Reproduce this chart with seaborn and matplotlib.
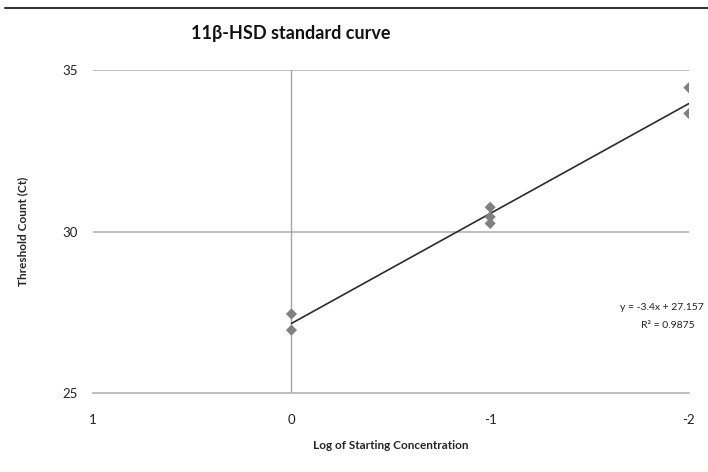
import matplotlib
matplotlib.use("Agg")
import matplotlib.pyplot as plt
import numpy as np
import pandas as pd
import seaborn as sns
from matplotlib.lines import Line2D

# replicate Ct readings per dilution
log_conc = [0, 0, -1, -1, -1, -2, -2]
ct_values = [27.45, 26.95, 30.75, 30.45, 30.25, 34.45, 33.65]

# linear trendline as reported on the chart
slope = -3.4
intercept = 27.157
r_squared = 0.9875

x_ticks = [1, 0, -1, -2]
y_ticks = [25, 30, 35]

sns.set_style("white")
plt.rcParams["font.family"] = ["Lato", "DejaVu Sans"]

points = pd.DataFrame({"log_conc": log_conc, "ct": ct_values})
fit_x = np.array([max(log_conc), min(log_conc)])
trend = pd.DataFrame({"log_conc": fit_x, "ct": slope * fit_x + intercept})

fig = plt.figure(figsize=(7.08, 4.72), dpi=100)
ax = fig.add_axes([0.131, 0.167, 0.842, 0.685])

grid_color = "#b3b3b3"
for yv in y_ticks[1:]:
    ax.axhline(yv, color=grid_color, lw=1.2, zorder=0)
ax.axvline(0, color="#a6a6a6", lw=1.0, zorder=0)

sns.lineplot(data=trend, x="log_conc", y="ct", color="#2b2b2b", lw=1.2, ax=ax, zorder=2)
sns.scatterplot(data=points, x="log_conc", y="ct", marker="D", s=32, color="#808080",
                edgecolor="none", ax=ax, zorder=3)

ax.set_xlim(1, -2)
ax.set_ylim(25, 35)
ax.set_xticks(x_ticks)
ax.set_xticklabels([str(v) for v in x_ticks])
ax.set_yticks(y_ticks)

for side in ["top", "right", "left"]:
    ax.spines[side].set_visible(False)
ax.spines["bottom"].set_color(grid_color)
ax.spines["bottom"].set_linewidth(1.2)
ax.tick_params(axis="x", direction="out", length=3, width=1, color=grid_color,
               pad=12, labelsize=9.5, labelcolor="#222222")
ax.tick_params(axis="y", length=0, pad=11, labelsize=9.5, labelcolor="#222222")

ax.set_xlabel("Log of Starting Concentration", fontsize=8.5, fontweight="bold", labelpad=10)
ax.set_ylabel("Threshold Count (Ct)", fontsize=8.5, fontweight="bold", labelpad=24)

fig.text(0.411, 1 - 33 / 472, "11\u03b2-HSD standard curve", ha="center", va="center",
         fontsize=13, fontweight="bold", color="#111111")
fig.text(704 / 708, 1 - 308 / 472, f"y = {slope}x + {intercept}", ha="right", va="center",
         fontsize=7.5, color="#222222")
fig.text(668 / 708, 1 - 325 / 472, f"R\u00b2 = {r_squared}", ha="center", va="center",
         fontsize=7.5, color="#222222")

fig.add_artist(Line2D([5 / 708, 1], [1 - 7.5 / 472] * 2, color="#333333", lw=1.5))

fig.savefig("out.png", dpi=100)
